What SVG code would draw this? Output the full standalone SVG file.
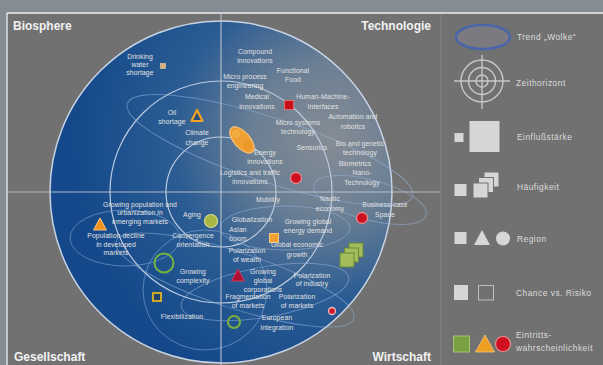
<svg xmlns="http://www.w3.org/2000/svg" width="603" height="365" viewBox="0 0 603 365">
<defs>
<radialGradient id="gBlue" gradientUnits="userSpaceOnUse" cx="330" cy="140" r="260">
<stop offset="0" stop-color="#858c94"/>
<stop offset="0.3" stop-color="#6b7f94"/>
<stop offset="0.6" stop-color="#2b5c93"/>
<stop offset="1" stop-color="#14488a"/>
</radialGradient>
<clipPath id="clipMain"><rect x="7" y="13" width="433" height="352"/></clipPath>
</defs>
<style>
.t{font-family:"Liberation Sans",Arial,sans-serif;font-size:6.8px;letter-spacing:0.1px;fill:#e2e2e2;text-anchor:middle}
.h{font-family:"Liberation Sans",Arial,sans-serif;font-weight:bold;font-size:12px;fill:#f2f2f2}
.l{font-family:"Liberation Sans",Arial,sans-serif;font-size:8.4px;letter-spacing:0.5px;fill:#dcdcdc}
.ring{fill:none;stroke:#bccbe0;stroke-width:1.2}
.axis{stroke:#c4ccd6;stroke-width:1.2;opacity:0.85}
.cloud{fill:none;stroke:#9ab8e2;stroke-width:1;opacity:0.5}
.lg{fill:#d6d6d6}
</style>
<rect x="0" y="0" width="603" height="365" fill="#858c94"/>
<rect x="7" y="13" width="596" height="352" fill="#717171"/>
<line x1="441" y1="13" x2="441" y2="365" stroke="#848484" stroke-width="1"/>
<line x1="7" y1="13" x2="603" y2="13" stroke="#eceff2" stroke-width="1.3"/>
<line x1="7" y1="13" x2="7" y2="365" stroke="#eceff2" stroke-width="1.3"/>

<g id="radar" clip-path="url(#clipMain)">
<circle cx="221" cy="192" r="171" fill="url(#gBlue)" stroke="#c8d4e4" stroke-width="1.5"/>
<circle class="ring" cx="221" cy="192" r="111"/>
<circle class="ring" cx="221" cy="192" r="55"/>
<line class="axis" x1="7" y1="192" x2="440" y2="192"/>
<line class="axis" x1="221" y1="13" x2="221" y2="365"/>
</g>

<g id="connectors" clip-path="url(#clipMain)">
<ellipse class="cloud" cx="270" cy="150" rx="150" ry="32" transform="rotate(18 270 150)"/>
<ellipse class="cloud" cx="370" cy="200" rx="58" ry="20" transform="rotate(15 370 200)"/>
<ellipse class="cloud" cx="125" cy="238" rx="55" ry="28"/>
<ellipse class="cloud" cx="205" cy="290" rx="62" ry="60"/>
<ellipse class="cloud" cx="235" cy="280" rx="125" ry="28" transform="rotate(18 235 280)"/>
<ellipse class="cloud" cx="285" cy="228" rx="65" ry="22"/>
<ellipse class="cloud" cx="265" cy="292" rx="85" ry="25" transform="rotate(-10 265 292)"/>
</g>

<g id="titles">
<text class="h" x="13" y="30">Biosphere</text>
<text class="h" x="431" y="30" text-anchor="end">Technologie</text>
<text class="h" x="14" y="361">Gesellschaft</text>
<text class="h" x="431" y="361" text-anchor="end">Wirtschaft</text>
</g>

<g id="drinking-water">
<text class="t" x="140" y="59.4">Drinking</text>
<text class="t" x="140" y="67.4">water</text>
<text class="t" x="140" y="75.4">shortage</text>
<rect x="160.5" y="63.5" width="5" height="5" fill="#d8b37e" stroke="#e8d0a8" stroke-width="0.6"/>
</g>
<g id="compound">
<text class="t" x="255" y="54.4">Compound</text>
<text class="t" x="255" y="63.4">innovations</text>
</g>
<g id="functional-food">
<text class="t" x="293" y="73.4">Functional</text>
<text class="t" x="293" y="82.4">Food</text>
</g>
<g id="micro-process">
<text class="t" x="245" y="79.4">Micro process</text>
<text class="t" x="245" y="88.4">engineering</text>
</g>
<g id="medical">
<text class="t" x="257" y="99.4">Medical</text>
<text class="t" x="257" y="109.4">innovations</text>
</g>
<g id="hmi">
<rect x="284.5" y="100.5" width="9" height="9" fill="#c8101a" stroke="#e07070" stroke-width="1"/>
<text class="t" x="323" y="99.4">Human-Machine-</text>
<text class="t" x="323" y="109.4">Interfaces</text>
</g>
<g id="automation">
<text class="t" x="353" y="119.4">Automation and</text>
<text class="t" x="353" y="129.4">robotics</text>
</g>
<g id="micro-systems">
<text class="t" x="298" y="125.4">Micro systems</text>
<text class="t" x="298" y="134.4">technology</text>
</g>
<g id="oil">
<text class="t" x="172" y="115.4">Oil</text>
<text class="t" x="172" y="124.4">shortage</text>
<polygon points="197,110 191.5,121 202.5,121" fill="#2b4f7c" stroke="#f2a224" stroke-width="2.2" stroke-linejoin="round"/>
</g>
<g id="climate">
<text class="t" x="197" y="135.4">Climate</text>
<text class="t" x="197" y="145.4">change</text>
</g>
<g id="energy">
<ellipse cx="242" cy="140" rx="16" ry="8" transform="rotate(48 242 140)" fill="#f0a032" stroke="#f6c27a" stroke-width="1.2"/>
<circle cx="236" cy="134" r="4" fill="#f4b04a" opacity="0.8"/>
<circle cx="247" cy="146" r="4" fill="#e89626" opacity="0.8"/>
<text class="t" x="265" y="155.4">Energy</text>
<text class="t" x="265" y="164.4">innovations</text>
</g>
<g id="logistics">
<text class="t" x="250" y="175.4">Logistics and traffic</text>
<text class="t" x="250" y="184.4">innovations</text>
<circle cx="296" cy="178" r="5.5" fill="#cc1020" stroke="#e88a8a" stroke-width="1.3"/>
</g>
<g id="sensorics">
<text class="t" x="312" y="150.4">Sensorics</text>
</g>
<g id="bio">
<text class="t" x="360" y="146.4">Bio and genetic</text>
<text class="t" x="360" y="155.4">technology</text>
</g>
<g id="biometrics">
<text class="t" x="355" y="166.4">Biometrics</text>
</g>
<g id="nano">
<text class="t" x="362" y="175.4">Nano-</text>
<text class="t" x="362" y="185.4">Technology</text>
</g>
<g id="mobility">
<text class="t" x="268" y="202.4">Mobility</text>
</g>
<g id="nautic">
<text class="t" x="330" y="201.4">Nautic</text>
<text class="t" x="330" y="211.4">economy</text>
</g>
<g id="business-space">
<text class="t" x="385" y="207.4">Business-case</text>
<text class="t" x="385" y="217.4">Space</text>
<circle cx="362" cy="218" r="5.5" fill="#cc1020" stroke="#e88a8a" stroke-width="1.3"/>
</g>
<g id="globalization">
<text class="t" x="252" y="222.4">Globalization</text>
</g>
<g id="energy-demand">
<text class="t" x="308" y="224.4">Growing global</text>
<text class="t" x="308" y="233.4">energy demand</text>
</g>
<g id="asian">
<text class="t" x="238" y="232.4">Asian</text>
<text class="t" x="238" y="241.4">boom</text>
</g>
<g id="global-growth">
<rect x="269.5" y="233.5" width="9" height="9" fill="#f0a030" stroke="#f8c880" stroke-width="1"/>
<text class="t" x="297" y="247.4">Global economic</text>
<text class="t" x="297" y="257.4">growth</text>
</g>
<g id="polarization-wealth">
<text class="t" x="247" y="253.4">Polarization</text>
<text class="t" x="247" y="262.4">of wealth</text>
</g>
<g id="corporations">
<polygon points="238,269 231.5,281 244.5,281" fill="#b0102e" stroke="#c84060" stroke-width="1"/>
<text class="t" x="263" y="274.4">Growing</text>
<text class="t" x="263" y="283.4">global</text>
<text class="t" x="263" y="292.4">corporations</text>
</g>
<g id="polarization-industry">
<text class="t" x="312" y="278.4">Polarization</text>
<text class="t" x="312" y="286.4">of industry</text>
</g>
<g id="space-economy">
<rect x="349" y="243" width="14" height="14" fill="#a3bd5c" stroke="#6a8838" stroke-width="1"/>
<rect x="344.5" y="248" width="14" height="14" fill="#a3bd5c" stroke="#6a8838" stroke-width="1"/>
<rect x="340" y="253" width="14" height="14" fill="#a3bd5c" stroke="#6a8838" stroke-width="1"/>
</g>
<g id="fragmentation">
<text class="t" x="248" y="299.4">Fragmentation</text>
<text class="t" x="248" y="308.4">of markets</text>
</g>
<g id="polarization-markets">
<text class="t" x="297" y="299.4">Polarization</text>
<text class="t" x="297" y="308.4">of markets</text>
<circle cx="332" cy="311" r="3.5" fill="#d01828" stroke="#f0c0c0" stroke-width="1.3"/>
</g>
<g id="european">
<circle cx="234" cy="322" r="6" fill="none" stroke="#7cb23a" stroke-width="2"/>
<text class="t" x="277" y="320.4">European</text>
<text class="t" x="277" y="330.4">integration</text>
</g>
<g id="growing-population">
<text class="t" x="140" y="207.4">Growing population and</text>
<text class="t" x="140" y="215.4">urbanization in</text>
<text class="t" x="140" y="224.4">emerging markets</text>
<polygon points="100,218 93.5,230 106.5,230" fill="#f0921e" stroke="#f6c080" stroke-width="1"/>
</g>
<g id="population-decline">
<text class="t" x="116" y="238.4">Population decline</text>
<text class="t" x="116" y="247.4">in developed</text>
<text class="t" x="116" y="255.4">markets</text>
</g>
<g id="aging">
<text class="t" x="192" y="217.4">Aging</text>
<circle cx="211" cy="221" r="6.5" fill="#a9b642" stroke="#d4da90" stroke-width="1.2"/>
</g>
<g id="convergence">
<text class="t" x="193" y="238.4">Convergence</text>
<text class="t" x="193" y="247.4">orientation</text>
</g>
<g id="complexity">
<circle cx="164" cy="263" r="9.5" fill="none" stroke="#72b242" stroke-width="2"/>
<text class="t" x="193" y="274.4">Growing</text>
<text class="t" x="193" y="283.4">complexity</text>
</g>
<g id="flexibilization">
<rect x="153" y="293" width="8" height="8" fill="#23406a" stroke="#e2b422" stroke-width="1.8"/>
<text class="t" x="182" y="319.4">Flexibilization</text>
</g>

<g id="legend">
<g id="lg-trend">
<ellipse cx="483" cy="37" rx="27" ry="12" fill="#7a7a80" stroke="#4a66aa" stroke-width="2.5"/>
<text class="l" x="517" y="40">Trend „Wolke“</text>
</g>
<g id="lg-zeit" fill="none" stroke="#c8c8c8" stroke-width="1.4">
<circle cx="482" cy="81" r="21"/>
<circle cx="482" cy="81" r="13.5"/>
<circle cx="482" cy="81" r="6"/>
<line x1="454" y1="81" x2="510" y2="81"/>
<line x1="482" y1="55" x2="482" y2="109"/>
<text class="l" x="516" y="86" stroke="none" fill="#dcdcdc">Zeithorizont</text>
</g>
<g id="lg-einfluss">
<rect class="lg" x="454.5" y="133" width="9" height="9"/>
<rect class="lg" x="469.5" y="121" width="30" height="31"/>
<text class="l" x="517" y="140">Einflußstärke</text>
</g>
<g id="lg-haeufigkeit">
<rect class="lg" x="484" y="172" width="15" height="15" stroke="#717171" stroke-width="1"/>
<rect class="lg" x="478.5" y="177.5" width="15" height="15" stroke="#717171" stroke-width="1"/>
<rect class="lg" x="473" y="183" width="15" height="15" stroke="#717171" stroke-width="1"/>
<rect class="lg" x="454.5" y="184" width="12" height="12"/>
<text class="l" x="517" y="190">Häufigkeit</text>
</g>
<g id="lg-region">
<rect class="lg" x="454.5" y="232" width="12" height="12"/>
<polygon class="lg" points="482,230 474,245 490,245"/>
<circle class="lg" cx="503" cy="238.5" r="7"/>
<text class="l" x="517" y="241.5">Region</text>
</g>
<g id="lg-chance">
<rect class="lg" x="454" y="285" width="14" height="15"/>
<rect x="478.5" y="285.5" width="15" height="14.5" fill="none" stroke="#c0c0c0" stroke-width="1"/>
<text class="l" x="516" y="296">Chance vs. Risiko</text>
</g>
<g id="lg-eintritt">
<rect x="453.5" y="336" width="16" height="16" fill="#7aa040" stroke="#a8c078" stroke-width="1"/>
<polygon points="485,335 475.5,352 494.5,352" fill="#f0a020" stroke="#f6c880" stroke-width="0.8"/>
<circle cx="503" cy="344" r="7.5" fill="#d01020" stroke="#e89090" stroke-width="1.2"/>
<text class="l" x="516" y="338">Eintritts-</text>
<text class="l" x="516" y="351">wahrscheinlichkeit</text>
</g>
</g>
</svg>
